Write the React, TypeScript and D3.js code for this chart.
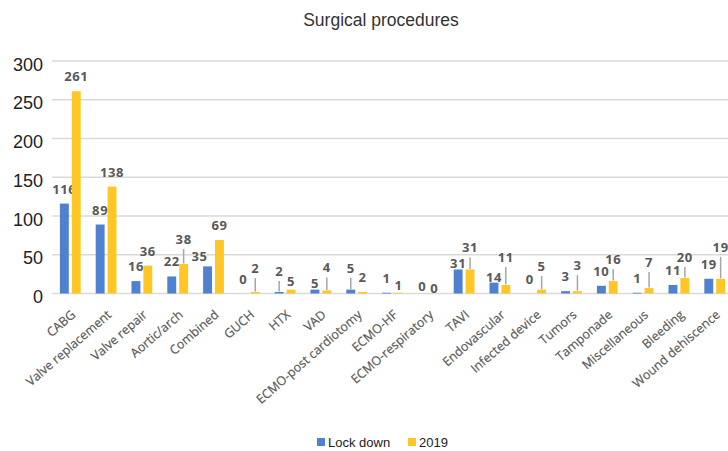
import React, { useEffect, useRef } from "react";
import * as d3 from "d3";

const categories = [
  "CABG", "Valve replacement", "Valve repair", "Aortic/arch", "Combined", "GUCH", "HTX", "VAD",
  "ECMO-post cardiotomy", "ECMO-HF", "ECMO-respiratory", "TAVI", "Endovascular", "Infected device",
  "Tumors", "Tamponade", "Miscellaneous", "Bleeding", "Wound dehiscence",
];
const lockDown = [116, 89, 16, 22, 35, 0, 2, 5, 5, 1, 0, 31, 14, 0, 3, 10, 1, 11, 19];
const year2019 = [261, 138, 36, 38, 69, 2, 5, 4, 2, 1, 0, 31, 11, 5, 3, 16, 7, 20, 19];
const yTicks = [0, 50, 100, 150, 200, 250, 300];
const seriesNames = ["Lock down", "2019"];

// data-label placement tweaks (pixels lifted above default / horizontal shift)
const lockDownLabelLift = [0, 0, 0, 0, -5, 0, 6, -8, 7, 0, -7.5, -8.6, -9, 0, 0, 0, 0, 0, 0];
const lockDownLabelShift = [0, 0, 0, 0, -8, 0, 0, 0, 0, 0, 0, 0, 0, 0, 0, 0, 0, 0, 0];
const y2019LabelLift = [0, 0, 0, 10, 0, 9, -6, 8, 0, -7, -9.5, 7, 13, 8.6, 11, 7, 11, 6, 17];
const y2019LabelShift = [0, 0, 0, 0, 0, 0, 0, 0, 0, 0, 0, 0, 0, 0, 0, 0, 0, 0, 0];

const COLORS = ["#4e82d1", "#fec726"];

export default function App() {
  const ref = useRef<SVGSVGElement>(null);
  useEffect(() => {
    const svg = d3.select(ref.current);
    svg.selectAll("*").remove();
    const W = 728, H = 451;
    const x0 = d3.scaleBand().domain(categories).range([52.4, 732.6]).padding(0);
    const x1 = d3.scaleBand().domain(seriesNames).range([7.5, 28.3]).paddingInner(0.25);
    const y = d3.scaleLinear().domain([0, 300]).range([293.5, 61]);

    svg.append("rect").attr("width", W).attr("height", H).attr("fill", "#fff");

    svg.append("text").attr("x", 381).attr("y", 26).attr("text-anchor", "middle")
      .attr("font-family", "Liberation Sans, Arial, sans-serif").attr("font-size", 17.5)
      .attr("fill", "#333").text("Surgical procedures");

    const g = svg.append("g");
    g.selectAll("line.grid").data(yTicks).enter().append("line")
      .attr("x1", 52).attr("x2", W).attr("y1", (d) => y(d)).attr("y2", (d) => y(d))
      .attr("stroke", "#dadada").attr("stroke-width", 1.5);
    g.selectAll("text.ytick").data(yTicks).enter().append("text")
      .attr("x", 43).attr("y", (d) => y(d) + 9.5).attr("text-anchor", "end")
      .attr("font-family", "Liberation Sans, Arial, sans-serif").attr("font-size", 18)
      .attr("fill", "#222").text((d) => d);

    const series = [
      { name: seriesNames[0], values: lockDown, lift: lockDownLabelLift, shift: lockDownLabelShift, color: COLORS[0] },
      { name: seriesNames[1], values: year2019, lift: y2019LabelLift, shift: y2019LabelShift, color: COLORS[1] },
    ];

    series.forEach((s) => {
      categories.forEach((c, i) => {
        const v = s.values[i];
        const bx = (x0(c) as number) + (x1(s.name) as number);
        const bw = x1.bandwidth();
        g.append("rect").attr("x", bx).attr("y", y(v)).attr("width", bw)
          .attr("height", Math.max(0, y(0) - y(v))).attr("fill", s.color);
        const cx = bx + bw / 2 + s.shift[i];
        const cy = y(v) - 15 - s.lift[i];
        if (s.lift[i] >= 5) {
          g.append("line").attr("x1", cx).attr("x2", cx).attr("y1", cy + 10).attr("y2", y(v) - 0.5)
            .attr("stroke", "#a6a6a6").attr("stroke-width", 1.5);
        }
        g.append("text").attr("x", cx).attr("y", cy + 5).attr("text-anchor", "middle")
          .attr("font-family", "Open Sans, sans-serif").attr("font-weight", "bold")
          .attr("font-size", 13).attr("letter-spacing", 0.6).attr("fill", "#595959").text(v);
      });
    });

    g.selectAll("text.xlab").data(categories).enter().append("text")
      .attr("transform", (d) => `translate(${(x0(d) as number) + x0.bandwidth() / 2 + 6},${316}) rotate(-41)`)
      .attr("text-anchor", "end")
      .attr("font-family", "Open Sans, sans-serif").attr("font-size", 12.5)
      .attr("fill", "#5a5a5a").attr("stroke", "#5a5a5a").attr("stroke-width", 0.2)
      .text((d) => d);

    const lg = svg.append("g");
    const legendX = [317, 408];
    seriesNames.forEach((n, i) => {
      lg.append("rect").attr("x", legendX[i]).attr("y", 438).attr("width", 8).attr("height", 8).attr("fill", COLORS[i]);
      lg.append("text").attr("x", legendX[i] + 11).attr("y", 446.5)
        .attr("font-family", "Liberation Sans, Arial, sans-serif").attr("font-size", 13)
        .attr("fill", "#222").text(n);
    });
  }, []);
  return (
    <svg ref={ref} width={728} height={451} style={{ position: "absolute", left: 0, top: 0 }} />
  );
}
